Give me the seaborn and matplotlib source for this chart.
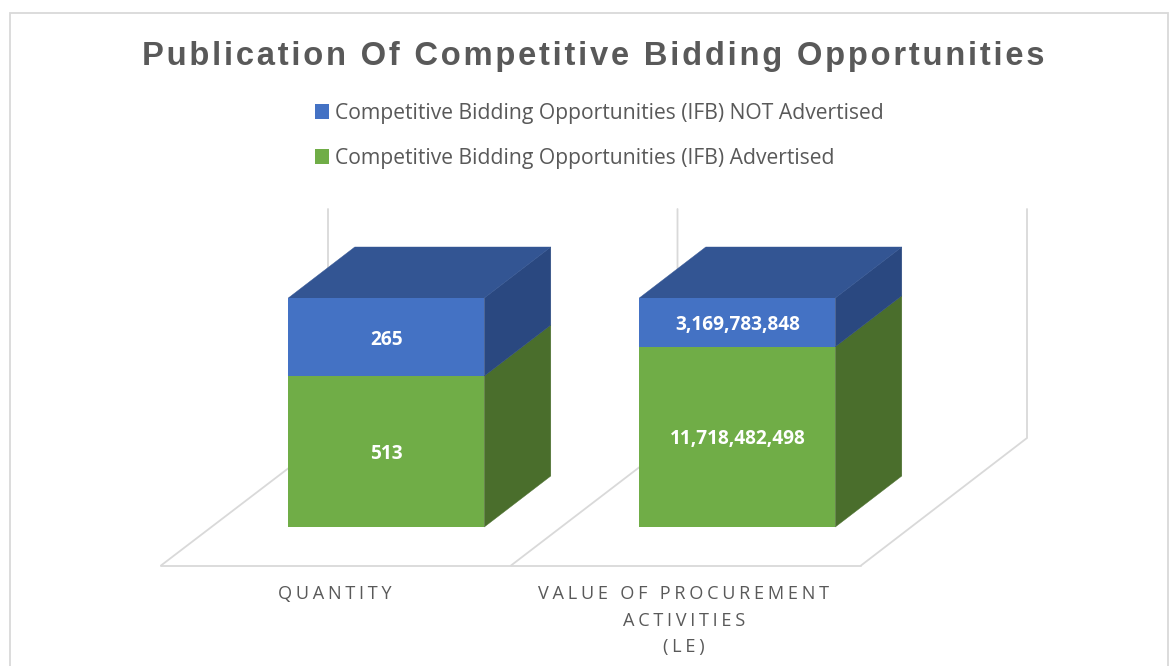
import matplotlib
matplotlib.use('Agg')
import matplotlib.pyplot as plt
from matplotlib.patches import Patch, Polygon, Rectangle
import pandas as pd
import seaborn as sns

categories = ['QUANTITY', 'VALUE OF PROCUREMENT\nACTIVITIES\n(LE)']
advertised = [513, 11718482498]
not_advertised = [265, 3169783848]
advertised_labels = ['513', '11,718,482,498']
not_advertised_labels = ['265', '3,169,783,848']
title = 'Publication Of Competitive Bidding Opportunities'
legend_not = 'Competitive Bidding Opportunities (IFB) NOT Advertised'
legend_adv = 'Competitive Bidding Opportunities (IFB) Advertised'

GREEN, GREEN_SIDE = '#70AD47', '#4A6E2C'
BLUE, BLUE_SIDE, BLUE_TOP = '#4472C4', '#2A4880', '#335593'
GRID = '#D9D9D9'
TEXT = '#595959'

W, H = 1171, 666
# bar area in pixels, everything else is placed relative to it
X0, SLOT = 386.3, 351
Y0, BAR_H = 527, 229
BAR_W = 196 / SLOT
DX, DY = 66.5 / SLOT, 51 / BAR_H


def spaced(s, n=2):
    # matplotlib has no letter spacing, so put hair spaces in between
    gap = '\u200a' * n
    return (gap + ' ' + gap).join(gap.join(w) for w in s.split(' '))


def px(x):
    return (x - X0) / SLOT


def py(y):
    return (Y0 - y) / BAR_H


sns.set_theme(style='white')
plt.rcParams['font.family'] = ['Open Sans', 'DejaVu Sans']

df = pd.DataFrame({'category': categories, 'adv': advertised, 'notadv': not_advertised})
df['total'] = df['adv'] + df['notadv']
df['adv_share'] = df['adv'] / df['total']
df['not_share'] = df['notadv'] / df['total']

fig = plt.figure(figsize=(W / 100, H / 100), dpi=100)
ax = fig.add_axes([0, 0, 1, 1])

# floor and back wall
floor_y, back_y, wall_top = py(565.5), py(438), py(209)
for i in range(3):
    fx, bx = px(161 + i * 350), px(328 + i * 349.5)
    ax.plot([fx, bx, bx], [floor_y, back_y, wall_top], color=GRID, lw=1.3, zorder=1, solid_joinstyle='miter')
ax.plot([px(161), px(861)], [floor_y, floor_y], color=GRID, lw=1.3, zorder=1)

sns.barplot(data=df, x='category', y='adv_share', color=GREEN, saturation=1, width=BAR_W, ax=ax, zorder=3,
            linewidth=0)
sns.barplot(data=df, x='category', y='not_share', bottom=df['adv_share'], color=BLUE, saturation=1,
            width=BAR_W, ax=ax, zorder=3, linewidth=0)

n = len(categories)
for k, bar in enumerate(ax.patches):
    x1 = bar.get_x() + bar.get_width()
    x_left = bar.get_x()
    y_low, y_high = bar.get_y(), bar.get_y() + bar.get_height()
    side = GREEN_SIDE if k < n else BLUE_SIDE
    ax.add_patch(Polygon([(x1, y_low), (x1 + DX, y_low + DY), (x1 + DX, y_high + DY), (x1, y_high)],
                         facecolor=side, edgecolor=side, lw=0.3, zorder=2.5))
    if k >= n:
        ax.add_patch(Polygon([(x_left, y_high), (x_left + DX, y_high + DY), (x1 + DX, y_high + DY), (x1, y_high)],
                             facecolor=BLUE_TOP, edgecolor=BLUE_TOP, lw=0.3, zorder=2.5))
    labels = advertised_labels if k < n else not_advertised_labels
    ax.text(bar.get_x() + bar.get_width() / 2, y_low + (y_high - y_low) / 2 - 2.5 / BAR_H,
            labels[k % n], color='white', fontsize=13.8, fontweight='bold', ha='center', va='center', zorder=4)

ax.set_xlim(px(0), px(W))
ax.set_ylim(py(H), py(0))
ax.set_axis_off()

# category labels sit under the floor, not under the bars
for i, cat in enumerate(categories):
    for j, line in enumerate(cat.split('\n')):
        ax.text(px(334.5 + i * 349.5), py(594 + j * 26.5), spaced(line, 2),
                color=TEXT, fontsize=13.1, ha='center', va='center')

fig.text(593.5 / W, 1 - 56.5 / H, spaced(title, 1), color=TEXT, fontsize=23.6,
         fontweight='bold', family=['Liberation Sans', 'DejaVu Sans'], ha='center', va='center')

handles = [Patch(facecolor=BLUE, linewidth=0), Patch(facecolor=GREEN, linewidth=0)]
ax.legend(handles, [legend_not, legend_adv], loc='upper left', bbox_to_anchor=(296 / W, 1 - 84 / H),
          bbox_transform=fig.transFigure, frameon=False, fontsize=15.2, labelcolor=TEXT, labelspacing=1.13,
          handlelength=0.66, handleheight=0.68, handletextpad=0.28)

fig.add_artist(Rectangle((9.5 / W, -0.05), 1158 / W, 1.05 - 13.5 / H, transform=fig.transFigure,
                         fill=False, edgecolor=GRID, lw=1.3))

fig.savefig('out.png', dpi=100)
